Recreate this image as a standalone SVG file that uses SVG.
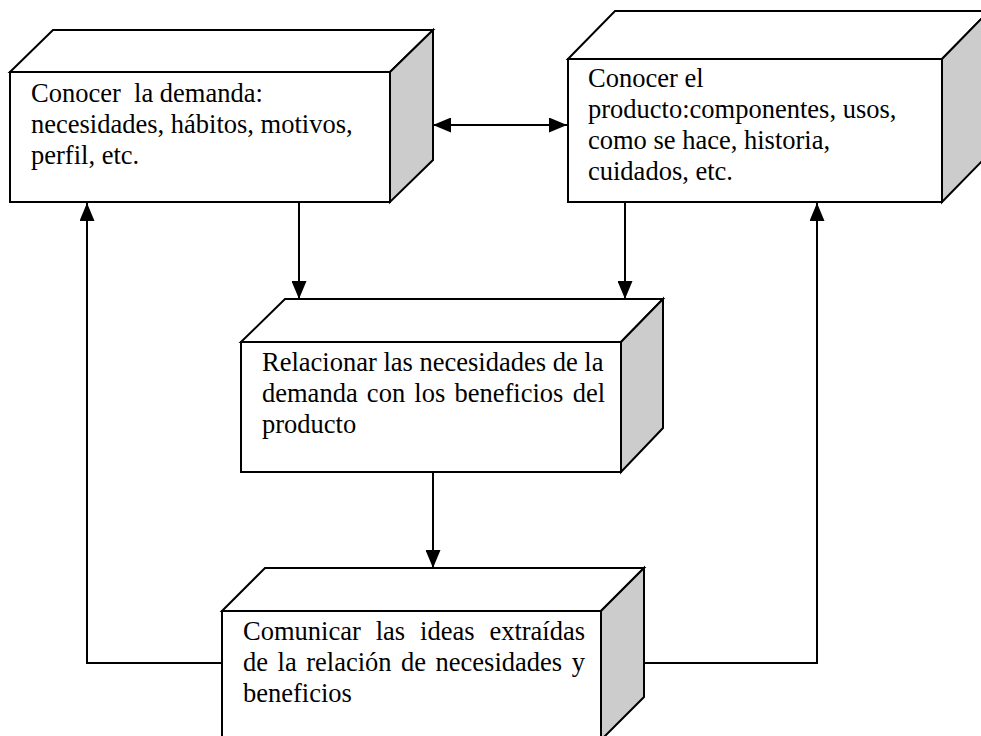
<svg xmlns="http://www.w3.org/2000/svg" width="981" height="736" viewBox="0 0 981 736">
<defs>
<marker id="ah" markerUnits="userSpaceOnUse" markerWidth="18" markerHeight="15" refX="18" refY="7.5" orient="auto-start-reverse">
<path d="M0,0 L18,7.5 L0,15 z" fill="#000"/>
</marker>
</defs>
<style>
.face{fill:#fff;stroke:#000;stroke-width:2;stroke-linejoin:miter}
.side{fill:#cccccc;stroke:#000;stroke-width:2}
.t{font-family:"Liberation Serif","Times New Roman",serif;font-size:26.5px;fill:#000;white-space:pre}
.c{fill:none;stroke:#000;stroke-width:2}
</style>
<rect width="981" height="736" fill="#fff"/>
<g id="connectors">
<line class="c" x1="433" y1="125" x2="567" y2="125" marker-start="url(#ah)" marker-end="url(#ah)"/>
<line class="c" x1="299" y1="203" x2="299" y2="299" marker-end="url(#ah)"/>
<line class="c" x1="625" y1="203" x2="625" y2="299" marker-end="url(#ah)"/>
<line class="c" x1="433" y1="472" x2="433" y2="568" marker-end="url(#ah)"/>
<polyline class="c" points="222,663 87,663 87,203" marker-end="url(#ah)"/>
<polyline class="c" points="644,663 817,663 817,203" marker-end="url(#ah)"/>
</g>
<g id="demanda">
<polygon class="face" points="10,72 53,30 433,30 390,72"/>
<polygon class="side" points="390,72 433,30 433,160 390,202"/>
<rect class="face" x="10" y="72" width="380" height="130"/>
<text class="t" x="31" y="102">Conocer  la demanda:</text>
<text class="t" x="31" y="133">necesidades, hábitos, motivos,</text>
<text class="t" x="31" y="164">perfil, etc.</text>
</g>
<g id="producto">
<polygon class="face" points="568,59 615,11 989,11 942,59"/>
<polygon class="side" points="942,59 989,11 989,154 942,202"/>
<rect class="face" x="568" y="59" width="374" height="143"/>
<text class="t" x="588" y="87">Conocer el</text>
<text class="t" x="588" y="118">producto:componentes, usos,</text>
<text class="t" x="588" y="149">como se hace, historia,</text>
<text class="t" x="588" y="180">cuidados, etc.</text>
</g>
<g id="relacionar">
<polygon class="face" points="241,342 285,299 663,299 621,342"/>
<polygon class="side" points="621,342 663,299 663,428 621,472"/>
<rect class="face" x="241" y="342" width="380" height="130"/>
<text class="t" x="262" y="371">Relacionar las necesidades de la</text>
<text class="t" x="262" y="402" word-spacing="2.6">demanda con los beneficios del</text>
<text class="t" x="262" y="433">producto</text>
</g>
<g id="comunicar">
<polygon class="face" points="222,611 265,568 644,568 601,611"/>
<polygon class="side" points="601,611 644,568 644,697 601,740"/>
<rect class="face" x="222" y="611" width="379" height="130"/>
<text class="t" x="243" y="640" word-spacing="8.3">Comunicar las ideas extraídas</text>
<text class="t" x="243" y="671" word-spacing="2.9">de la relación de necesidades y</text>
<text class="t" x="243" y="702">beneficios</text>
</g>
</svg>
